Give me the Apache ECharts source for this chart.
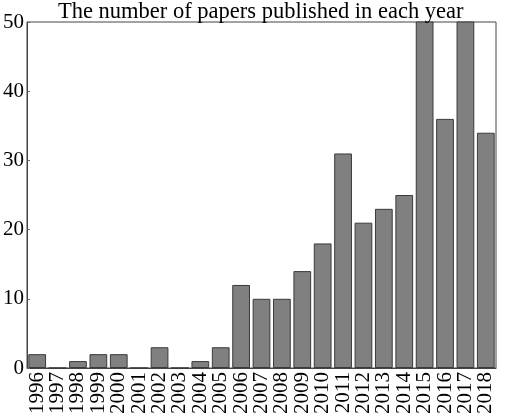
<!DOCTYPE html>
<html>
<head>
<meta charset="utf-8">
<script src="https://cdn.jsdelivr.net/npm/echarts@6/dist/echarts.min.js"></script>
<style>
  html, body { margin: 0; padding: 0; background: #fff; }
  #container { width: 510px; height: 419px; }
</style>
</head>
<body>
<div id="container"></div>
<script>
    var years = ["1996", "1997", "1998", "1999", "2000", "2001", "2002", "2003", "2004", "2005", "2006", "2007",
                 "2008", "2009", "2010", "2011", "2012", "2013", "2014", "2015", "2016", "2017", "2018"];
    // 2015 and 2017 run past the top of the axis in the picture
    var papers = [2, 0, 1, 2, 2, 0, 3, 0, 1, 3, 12, 10, 10, 14, 18, 31, 21, 23, 25, 55, 36, 55, 34];
    var titleText = "The number of papers published in each year";

    var serif = "Liberation Serif";
    var myChart = echarts.init(document.getElementById("container"));
    myChart.setOption({
        animation: false,
        title: {
            text: titleText,
            left: 58,
            top: -4,
            padding: [5, 0],
            textStyle: { fontFamily: serif, fontWeight: 'normal', fontSize: 22.5, color: '#000' }
        },
        grid: {
            left: 27, right: 14, top: 22, bottom: 51,
            show: true, borderColor: '#444', borderWidth: 1
        },
        xAxis: {
            type: 'category',
            data: years,
            axisLine: { lineStyle: { color: '#444' } },
            axisTick: { show: false },
            axisLabel: {
                rotate: 90, interval: 0, margin: 4,
                fontFamily: serif, fontSize: 21, color: '#000'
            }
        },
        yAxis: {
            type: 'value',
            min: 0, max: 50, interval: 10,
            splitLine: { show: false },
            axisLine: { show: true, lineStyle: { color: '#444' } },
            axisTick: { show: true, inside: true, length: 3, lineStyle: { color: '#666' } },
            axisLabel: { margin: 3, fontFamily: serif, fontSize: 21, color: '#000' }
        },
        series: [{
            type: 'bar',
            data: papers,
            clip: true,
            barCategoryGap: '13%',
            itemStyle: { color: '#808080', borderColor: '#3a3a3a', borderWidth: 1 }
        }]
    });
</script>
</body>
</html>
